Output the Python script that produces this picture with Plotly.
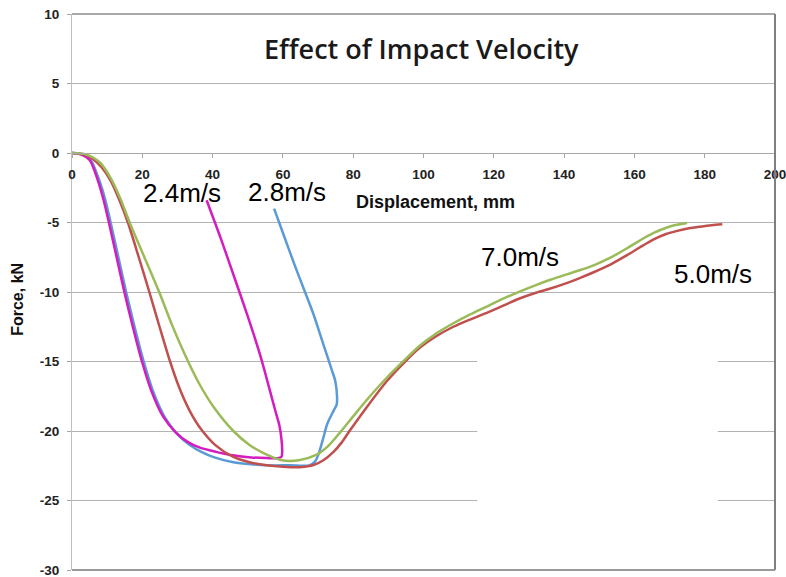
import plotly.graph_objects as go

# Force-displacement curves for four impact velocities
disp_24 = [0, 2.5, 5.0, 7.4, 9.0, 10.5, 12.7, 14.9, 17.3, 19.9, 22.7, 25.9, 29.5, 33.0, 36.4, 41.0,
           45.8, 51.0, 55.4, 58.6, 59.6, 59.8, 59.6, 59.0, 57.9, 56.1, 53.6, 50.2, 46.4, 42.4, 38.3]
force_24 = [0, -0.1, -0.5, -2.0, -3.4, -5.0, -7.5, -10.0, -12.5, -15.0, -17.2, -18.95, -20.1, -20.8, -21.2, -21.5,
            -21.75, -21.9, -21.95, -21.95, -21.85, -21.5, -20.6, -19.6, -18.6, -16.9, -14.6, -11.9, -9.1, -6.2, -3.4]

disp_28 = [0, 2.7, 5.3, 7.8, 9.5, 11.0, 13.2, 15.4, 17.8, 20.4, 23.3, 26.6, 30.2, 33.5, 36.8, 40.5,
           45.9, 51.0, 55.4, 62.0, 67.5, 69.1, 70.1, 71.5, 72.6, 74.4, 75.3, 75.4, 74.9, 73.9, 71.3,
           68.7, 65.9, 63.1, 60.3, 57.5]
force_28 = [0, -0.1, -0.5, -2.0, -3.4, -5.0, -7.5, -10.0, -12.5, -15.0, -17.3, -19.1, -20.3, -21.0, -21.5, -21.9,
            -22.25, -22.4, -22.47, -22.47, -22.47, -22.2, -21.7, -20.5, -19.5, -18.55, -18.1, -17.5, -16.4, -15.6, -13.6,
            -11.6, -9.75, -7.9, -5.95, -4.0]

disp_50 = [0, 4, 8, 11, 13.5, 15.9, 19.0, 22.0, 24.9, 27.9, 30.7, 33.6, 36.8, 40.7, 45.9, 50.5, 55.4,
           60.0, 64.9, 68.7, 71.5, 74.4, 76.8, 79.1, 83.9, 89.6, 94.8, 99.0, 103.5, 108.5, 113.0, 118.0,
           122.5, 127.5, 132.0, 136.1, 140.5, 144.6, 148.4, 153.0, 157.9, 161.5, 165.5, 169.0, 172.2,
           175.5, 178.8, 182.0, 185.0]
force_50 = [0, -0.15, -0.9, -2.0, -3.4, -5.0, -7.5, -10.0, -12.5, -15.0, -17.0, -18.6, -19.9, -21.0, -21.87,
            -22.25, -22.47, -22.57, -22.6, -22.45, -22.1, -21.5, -20.8, -19.95, -18.27, -16.4, -15.0, -14.0,
            -13.2, -12.5, -12.0, -11.5, -11.0, -10.45, -10.05, -9.75, -9.38, -8.98, -8.58, -8.05, -7.35,
            -6.8, -6.22, -5.83, -5.6, -5.42, -5.3, -5.2, -5.13]

disp_70 = [0, 4, 8, 11, 13.8, 16.4, 20.6, 24.8, 28.5, 32.3, 36.2, 40.5, 45.9, 50.5, 55.4, 59.7, 64.5,
           69.6, 73.0, 76.3, 80.0, 83.9, 89.6, 94.8, 99.0, 103.5, 108.5, 113.0, 118.0, 122.5, 127.5,
           132.0, 136.1, 140.5, 144.6, 148.4, 153.0, 157.9, 161.5, 165.5, 170.3, 175.0]
force_70 = [0, -0.1, -0.7, -1.8, -3.3, -5.0, -7.5, -10.0, -12.4, -14.6, -16.6, -18.35, -20.0, -21.0, -21.7,
            -22.1, -22.1, -21.7, -21.05, -20.1, -18.95, -17.75, -16.15, -14.85, -13.85, -13.0, -12.25,
            -11.65, -11.05, -10.5, -9.95, -9.5, -9.12, -8.75, -8.42, -8.08, -7.55, -6.85, -6.3, -5.75,
            -5.27, -5.04]

x_ticks = [0, 20, 40, 60, 80, 100, 120, 140, 160, 180, 200]
y_ticks = [-30, -25, -20, -15, -10, -5, 0, 5, 10]

series = [
    (disp_28, force_28, "#5B9BD5", "2.8m/s"),
    (disp_24, force_24, "#D41CBF", "2.4m/s"),
    (disp_50, force_50, "#C0504D", "5.0m/s"),
    (disp_70, force_70, "#9BBB59", "7.0m/s"),
]

# curve labels: (text, x, y)
labels = [
    ("2.4m/s", 31.4, -2.85),
    ("2.8m/s", 61.3, -2.83),
    ("7.0m/s", 127.5, -7.48),
    ("5.0m/s", 182.3, -8.68),
]

fig = go.Figure()
for xs, ys, col, name in series:
    fig.add_trace(go.Scatter(x=xs, y=ys, mode="lines", name=name,
                             line=dict(color=col, width=2.5, shape="spline", smoothing=0.8)))

tick_font = dict(family="Liberation Sans", size=13.5, color="#222222", weight="bold")

fig.update_layout(
    width=786, height=577,
    margin=dict(l=72, r=11, t=14, b=7),
    plot_bgcolor="white", paper_bgcolor="white",
    showlegend=False,
    xaxis=dict(range=[0, 200], tickvals=x_ticks, ticktext=[str(v) for v in x_ticks],
               anchor="free", position=0.75, showline=True, linecolor="#A6A6A6", linewidth=1.2,
               ticks="outside", ticklen=4, tickcolor="#A6A6A6", showgrid=False, zeroline=False,
               tickfont=tick_font, ticklabelstandoff=5, ticklabeloverflow="allow",
               automargin=False),
    yaxis=dict(range=[-30, 10], tickvals=y_ticks, ticktext=[str(v) for v in y_ticks],
               showgrid=True, gridcolor="#B3B3B3", gridwidth=1.2,
               showline=True, linecolor="#BFBFBF", linewidth=1.2,
               ticks="outside", ticklen=4, tickcolor="#A6A6A6", zeroline=False,
               tickfont=tick_font, ticklabelstandoff=5, ticklabeloverflow="allow",
               automargin=False),
)

# blank panel over the lower right grid
fig.add_shape(type="rect", xref="x", yref="y", x0=115.3, x1=183.7, y0=-29.85, y1=-13.0,
              fillcolor="white", line=dict(width=0), layer="between")
# frame edges: top, right, bottom
fig.add_shape(type="line", xref="paper", yref="paper", x0=0, x1=1, y0=1, y1=1,
              line=dict(color="#8C8C8C", width=1.5), layer="above")
fig.add_shape(type="line", xref="paper", yref="paper", x0=1, x1=1, y0=0, y1=1,
              line=dict(color="#7F7F7F", width=2), layer="above")
fig.add_shape(type="line", xref="paper", yref="paper", x0=0, x1=1, y0=0, y1=0,
              line=dict(color="#999999", width=2), layer="above")

fig.add_annotation(text="Effect of Impact Velocity", x=99.5, y=7.53, xref="x", yref="y",
                   showarrow=False, xanchor="center", yanchor="middle",
                   font=dict(family="Open Sans", size=27, color="#1a1a1a", weight=600))
fig.add_annotation(text="Displacement, mm", x=80.3, y=-3.55, xref="x", yref="y",
                   showarrow=False, xanchor="left", yanchor="middle",
                   font=dict(family="Liberation Sans", size=18, color="#111111", weight="bold"))
fig.add_annotation(text="Force, kN", x=-0.077, y=-10.5, xref="paper", yref="y",
                   showarrow=False, xanchor="center", yanchor="middle", textangle=-90,
                   font=dict(family="Liberation Sans", size=16, color="#111111", weight="bold"))
for text, lx, ly in labels:
    fig.add_annotation(text=text, x=lx, y=ly, xref="x", yref="y", showarrow=False,
                       xanchor="center", yanchor="middle",
                       font=dict(family="Liberation Sans", size=26, color="#000000"))

fig.write_html("out.html")
